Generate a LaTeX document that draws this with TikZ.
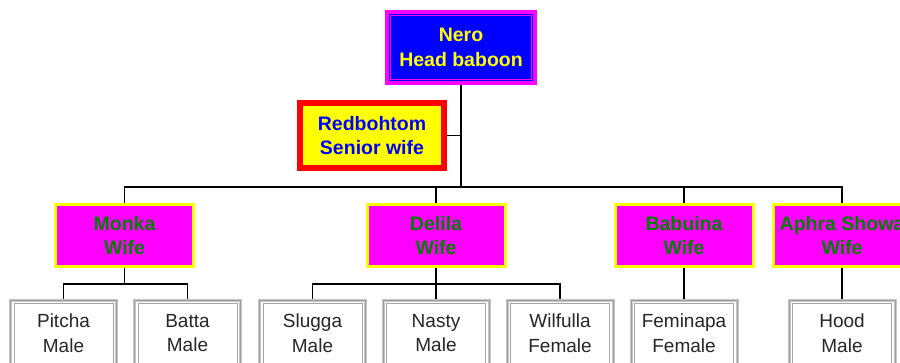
\documentclass[tikz,border=0pt]{standalone}
\usepackage{fontspec}
\setmainfont{Liberation Sans}
\definecolor{mag}{RGB}{255,0,255}
\definecolor{pblue}{RGB}{0,0,255}
\definecolor{pyellow}{RGB}{255,255,0}
\definecolor{pred}{RGB}{255,0,0}
\definecolor{dgreen}{RGB}{0,128,0}
\begin{document}
\begin{tikzpicture}[x=1pt,y=-1pt,
  conn/.style={draw=black, line width=1.2pt},
  bigfont/.style={font=\bfseries\fontsize{19.5}{24.5}\selectfont},
  headbox/.style={draw=mag, line width=4pt, fill=pblue, text=pyellow, bigfont,
    minimum width=148pt, minimum height=71pt, inner sep=0pt, align=center,
    path picture={\draw[mag, line width=1pt]
      ([shift={(3.5pt,-3.5pt)}]path picture bounding box.north west) rectangle
      ([shift={(-3.5pt,3.5pt)}]path picture bounding box.south east);}},
  seniorbox/.style={draw=pred, line width=6pt, fill=pyellow, text=pblue, bigfont,
    minimum width=144pt, minimum height=65pt, inner sep=0pt, align=center},
  wifebox/.style={draw=pyellow, line width=3pt, fill=mag, text=dgreen, bigfont,
    minimum width=138pt, minimum height=62pt, inner sep=0pt, align=center},
  kidbox/.style={draw=gray!45, line width=3pt, fill=white, text=black!85,
    font=\fontsize{19}{24.5}\selectfont,
    minimum width=106pt, minimum height=65pt, inner sep=0pt, align=center,
    postaction={draw=gray!75, line width=0.8pt},
    path picture={\draw[gray!70, line width=1pt]
      ([shift={(3.5pt,-10pt)}]path picture bounding box.south west) |-
      ([shift={(-3.5pt,-3.5pt)}]path picture bounding box.north east) --
      ([shift={(-3.5pt,-10pt)}]path picture bounding box.south east);}}
]
\useasboundingbox (0,0) rectangle (900,363);
\fill[white] (0,0) rectangle (900,363);
\clip (0,0) rectangle (900,363);

% head and senior wife
\node[headbox] (nero) at (461,47.5) {Nero\\Head baboon};
\node[seniorbox] (red) at (372,135.5) {Redbohtom\\Senior wife};

% wives
\node[wifebox] (monka) at (124.5,235.5) {Monka\\Wife};
\node[wifebox] (delila) at (436,235.5) {Delila\\Wife};
\node[wifebox] (babuina) at (684,235.5) {Babuina\\Wife};
\node[wifebox] (aphra) at (842,235.5) {Aphra Showa\\Wife};

% children
\node[kidbox] (pitcha) at (63.5,333) {Pitcha\\Male};
\node[kidbox] (batta) at (187.5,333) {Batta\\Male};
\node[kidbox] (slugga) at (312.5,333) {Slugga\\Male};
\node[kidbox] (nasty) at (436,333) {Nasty\\Male};
\node[kidbox] (wilfulla) at (560,333) {Wilfulla\\Female};
\node[kidbox] (feminapa) at (684,333) {Feminapa\\Female};
\node[kidbox] (hood) at (842,333) {Hood\\Male};

% connectors
\coordinate (j0) at (461,187);
\draw[conn] (nero.south) -- (j0);
\draw[conn] (red.east) -- (red.east -| nero.south);
\draw[conn] (monka.north) |- (j0) -| (aphra.north);
\draw[conn] (delila.north) -- (delila.north |- j0);
\draw[conn] (babuina.north) -- (babuina.north |- j0);

\draw[conn] (monka.south) -- ++(0,16) coordinate (mj);
\draw[conn] (pitcha.north) |- (mj) -| (batta.north);
\draw[conn] (delila.south) -- ++(0,16) coordinate (dj);
\draw[conn] (slugga.north) |- (dj) -| (wilfulla.north);
\draw[conn] (nasty.north) -- (dj);
\draw[conn] (babuina.south) -- (feminapa.north);
\draw[conn] (aphra.south) -- (hood.north);
\end{tikzpicture}
\end{document}
